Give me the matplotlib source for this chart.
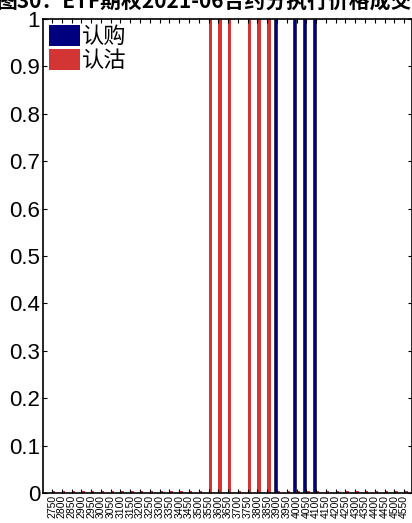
import matplotlib
matplotlib.use("Agg")
import matplotlib.pyplot as plt
import numpy as np
from matplotlib.patches import Patch

plt.rcParams['font.family'] = ['Liberation Sans', 'Noto Sans CJK SC', 'DejaVu Sans']

strikes = list(range(2750, 4551, 50))
call_on = [3900, 4000, 4050, 4100]
put_on = [3550, 3600, 3650, 3750, 3800, 3850]
call_vals = [1.0 if s in call_on else 0.0 for s in strikes]
put_vals = [1.0 if s in put_on else 0.004 for s in strikes]
series_names = ['认购', '认沽']
title = '图30：ETF期权2021-06合约分执行价格成交量'

W, H = 412, 523
fig = plt.figure(figsize=(W / 100, H / 100), dpi=100)
ax = fig.add_axes([43 / W, 1 - 493 / H, (412 - 43) / W, (493 - 19) / H])

x = np.arange(len(strikes))
navy = '#00007f'
red = '#d33434'
ax.bar(x - 0.2, call_vals, width=0.3, color=navy, edgecolor='black', linewidth=0.4)
ax.bar(x + 0.17, put_vals, width=0.34, color=red, edgecolor='none')

ax.set_xlim(-0.92, 36.8)
ax.set_ylim(0, 1)
ax.set_yticks(np.arange(0, 1.01, 0.1))
ax.set_yticklabels(['0'] + [f'{v:.1f}' for v in np.arange(0.1, 0.95, 0.1)] + ['1'], fontsize=16)
ax.set_xticks(x)
ax.set_xticklabels([str(s) for s in strikes], rotation=90, fontsize=7.5)
ax.tick_params(axis='both', direction='in', top=True, right=True, length=3, width=0.8)
ax.tick_params(axis='x', pad=1.5)
ax.tick_params(axis='y', pad=2)
for sp in ax.spines.values():
    sp.set_linewidth(1.2)

handles = [Patch(facecolor=navy, edgecolor='none'), Patch(facecolor=red, edgecolor='none')]
ax.legend(handles, series_names, loc='upper left', frameon=False,
          prop={'family': ['Noto Sans CJK SC'], 'size': 16},
          handlelength=1.4, handleheight=1.1, handletextpad=0.1,
          labelspacing=0.05, borderaxespad=0.1, borderpad=0.15)

fig.text(-3 / W, 1 - 9 / H, title, fontsize=15, fontweight='bold',
         family=['Noto Sans CJK SC', 'DejaVu Sans'], ha='left', va='baseline')

fig.savefig('out.png', dpi=100)
